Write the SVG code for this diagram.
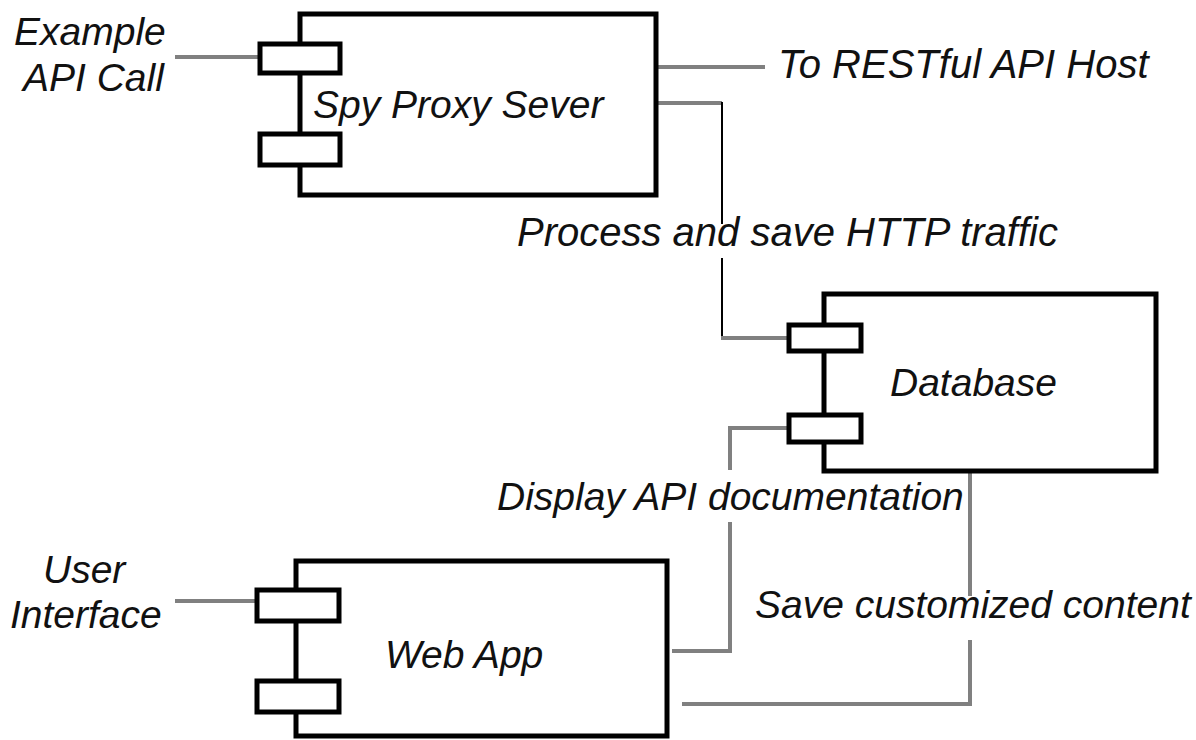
<svg xmlns="http://www.w3.org/2000/svg" width="1196" height="740" viewBox="0 0 1196 740">
<style>
.box{fill:#fff;stroke:#000;stroke-width:5}
.port{fill:#fff;stroke:#000;stroke-width:5}
.g{fill:none;stroke:#808080;stroke-width:4}
.k{fill:none;stroke:#000;stroke-width:2}
text{font-family:"Liberation Sans",Arial,sans-serif;font-style:italic;font-size:39px;fill:#111}
.big{font-size:40px}
</style>
<rect width="1196" height="740" fill="#fff"/>
<g id="connectors">
<line class="g" x1="175" y1="57" x2="258" y2="57"/>
<line class="g" x1="657" y1="67" x2="765" y2="67"/>
<polyline class="g" points="657,103 722,103"/>
<line class="k" x1="722" y1="102" x2="722" y2="224"/>
<line class="k" x1="722" y1="258" x2="722" y2="339"/>
<line class="g" x1="721" y1="338" x2="788" y2="338"/>
<polyline class="g" points="788,428 730,428 730,470"/>
<polyline class="g" points="730,522 730,651 672,651"/>
<polyline class="g" points="970,473 970,596"/>
<polyline class="g" points="970,640 970,704 682,704"/>
<line class="g" x1="175" y1="601" x2="256" y2="601"/>
</g>
<g id="spy-proxy">
<rect class="box" x="300" y="14" width="356" height="181"/>
<rect class="port" x="260" y="44" width="80" height="29"/>
<rect class="port" x="260" y="134" width="80" height="31"/>
<text x="313" y="118">Spy Proxy Sever</text>
</g>
<g id="database">
<rect class="box" x="824" y="294" width="332" height="177"/>
<rect class="port" x="789" y="325" width="72" height="26"/>
<rect class="port" x="789" y="415" width="72" height="27"/>
<text x="890" y="396">Database</text>
</g>
<g id="web-app">
<rect class="box" x="296" y="561" width="371" height="175"/>
<rect class="port" x="257" y="590" width="82" height="31"/>
<rect class="port" x="257" y="681" width="82" height="31"/>
<text x="385" y="668">Web App</text>
</g>
<g id="labels">
<text x="14" y="45">Example</text>
<text x="23" y="91">API Call</text>
<text class="big" x="778" y="78">To RESTful API Host</text>
<text class="big" x="517" y="246">Process and save HTTP traffic</text>
<text x="497" y="510">Display API documentation</text>
<text x="755" y="618">Save customized content</text>
<text x="43" y="583">User</text>
<text x="10" y="628">Interface</text>
</g>
</svg>
